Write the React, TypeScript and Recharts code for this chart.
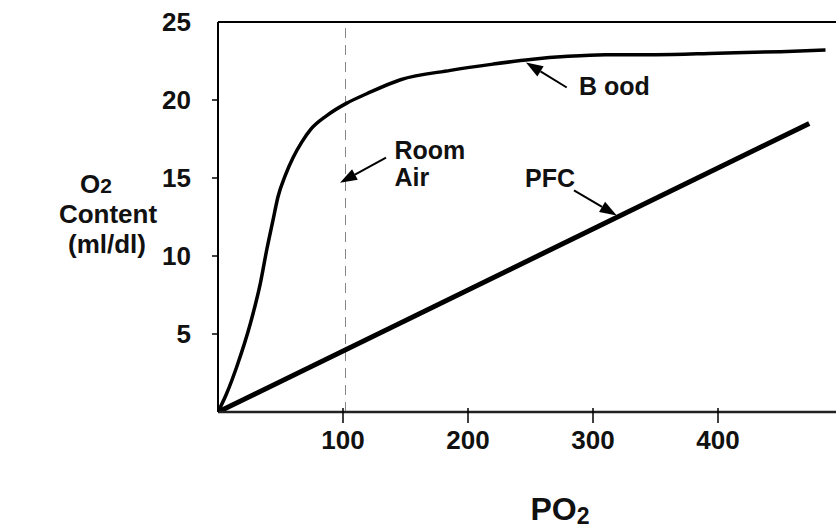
import React from 'react';
import {
  LineChart,
  Line,
  XAxis,
  YAxis,
  ReferenceLine,
  ReferenceDot,
} from 'recharts';

// PO2 (mmHg) vs O2 content (ml/dl)
const bloodPO2 = [0, 7, 15, 26, 34, 39, 44, 48, 54, 60, 67, 74, 87, 103, 119, 146, 186, 220, 250, 280, 310, 350, 400, 450, 486];
const bloodO2 = [0, 1.2, 2.9, 5.7, 8.3, 10.4, 12.3, 13.8, 15.2, 16.3, 17.3, 18.1, 19.0, 19.8, 20.4, 21.3, 21.9, 22.3, 22.6, 22.8, 22.9, 22.9, 23.0, 23.1, 23.2];
const pfcPO2 = [0, 473];
const pfcO2 = [0, 18.5];

const xTicks = [100, 200, 300, 400];
const yTicks = [5, 10, 15, 20, 25];
const roomAirPO2 = 102;

// annotation arrows: tail -> head, in data units
const arrows = [
  { from: [134.4, 16.3], to: [97.6, 14.7] },
  { from: [279, 20.8], to: [246.4, 22.4] },
  { from: [284.8, 14.2], to: [319, 12.6] },
];
const notes = [
  { at: [141.2, 16.2], lines: ['Room', 'Air'] },
  { at: [288.8, 20.32], lines: ['B ood'] },
  { at: [245.6, 14.42], lines: ['PFC'] },
];

const bloodData = bloodPO2.map((x, i) => ({ x, y: bloodO2[i] }));
const pfcData = pfcPO2.map((x, i) => ({ x, y: pfcO2[i] }));

const FONT = '"Liberation Sans", Arial, sans-serif';

const XTick = (props: any) => {
  const { x, y, payload } = props;
  return (
    <g>
      <line x1={x} x2={x} y1={y - 4} y2={y + 11} stroke="#000" strokeWidth={1.5} />
      <text x={x} y={y + 37} textAnchor="middle" fontFamily={FONT} fontWeight="bold" fontSize={26} fill="#111">
        {payload.value}
      </text>
    </g>
  );
};

const YTick = (props: any) => {
  const { x, y, payload } = props;
  return (
    <g>
      {payload.value !== 25 && <line x1={x - 6} x2={x} y1={y} y2={y} stroke="#000" strokeWidth={1.5} />}
      <text x={x - 27} y={y + 9} textAnchor="end" fontFamily={FONT} fontWeight="bold" fontSize={26} fill="#111">
        {payload.value}
      </text>
    </g>
  );
};

const Arrow = (props: any) => {
  const { x1, y1, x2, y2 } = props;
  const dx = x2 - x1;
  const dy = y2 - y1;
  const len = Math.sqrt(dx * dx + dy * dy) || 1;
  const ux = dx / len;
  const uy = dy / len;
  const hl = 17;
  const hw = 6;
  const bx = x2 - ux * hl;
  const by = y2 - uy * hl;
  const pts = `${x2},${y2} ${bx - uy * hw},${by + ux * hw} ${bx + uy * hw},${by - ux * hw}`;
  return (
    <g>
      <line x1={x1} y1={y1} x2={bx} y2={by} stroke="#000" strokeWidth={2} />
      <polygon points={pts} fill="#000" />
    </g>
  );
};

const App: React.FC = () => {
  return (
    <div style={{ position: 'absolute', left: 0, top: 0, width: 836, height: 529, background: '#fff' }}>
      <LineChart width={836} height={529} margin={{ top: 22, right: 0, bottom: 0, left: 0 }}>
        <XAxis
          type="number"
          dataKey="x"
          domain={[0, 494.4]}
          ticks={xTicks}
          allowDataOverflow
          height={117}
          tickSize={0}
          tickMargin={0}
          tick={<XTick />}
          axisLine={{ stroke: '#222', strokeWidth: 2.5 }}
          tickLine={false}
        />
        <YAxis
          type="number"
          dataKey="y"
          domain={[0, 25]}
          ticks={yTicks}
          allowDataOverflow
          width={218}
          tickSize={0}
          tickMargin={0}
          tick={<YTick />}
          axisLine={{ stroke: '#000', strokeWidth: 2 }}
          tickLine={false}
        />
        <ReferenceLine y={25} stroke="#000" strokeWidth={2} />
        <ReferenceLine x={roomAirPO2} stroke="#888" strokeWidth={1} strokeDasharray="10 7" />
        <Line data={pfcData} dataKey="y" type="linear" stroke="#000" strokeWidth={5} dot={false} isAnimationActive={false} />
        <Line data={bloodData} dataKey="y" type="monotone" stroke="#000" strokeWidth={3.5} dot={false} isAnimationActive={false} />
        {arrows.map((a, i) => (
          <ReferenceLine
            key={`a${i}`}
            segment={[{ x: a.from[0], y: a.from[1] }, { x: a.to[0], y: a.to[1] }]}
            shape={(p: any) => <Arrow {...p} />}
          />
        ))}
        {notes.map((n, i) => (
          <ReferenceDot
            key={`n${i}`}
            x={n.at[0]}
            y={n.at[1]}
            r={0}
            shape={(p: any) => (
              <text x={p.cx} y={p.cy} fontFamily={FONT} fontWeight="bold" fontSize={25} fill="#111">
                {n.lines.map((l, j) => (
                  <tspan key={j} x={p.cx} dy={j === 0 ? 0 : 27}>
                    {l}
                  </tspan>
                ))}
              </text>
            )}
          />
        ))}
      </LineChart>
      <svg width={836} height={529} style={{ position: 'absolute', left: 0, top: 0, pointerEvents: 'none' }}>
        <g fontFamily={FONT} fontWeight="bold" fill="#111" textAnchor="middle">
          <text x={96} y={193} fontSize={26}>
            O<tspan fontSize={21}>2</tspan>
          </text>
          <text x={108} y={223} fontSize={26}>Content</text>
          <text x={107} y={253} fontSize={26}>(ml/dl)</text>
          <text x={560} y={520} fontSize={32}>
            PO<tspan fontSize={23} dy={4}>2</tspan>
          </text>
        </g>
      </svg>
    </div>
  );
};

export default App;
